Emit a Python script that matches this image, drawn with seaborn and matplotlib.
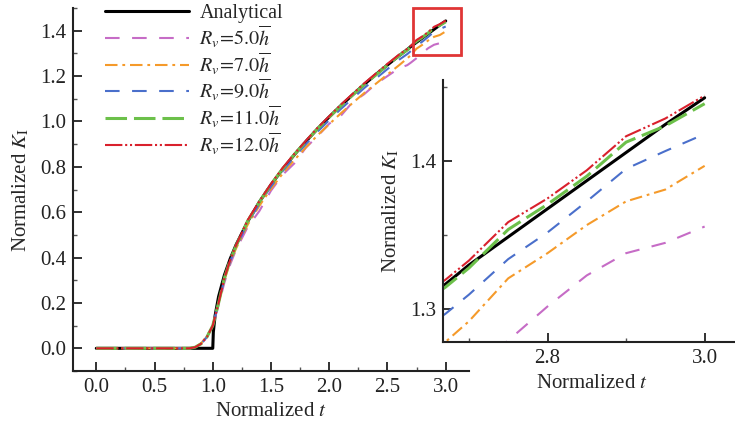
import matplotlib
matplotlib.use("Agg")
import matplotlib.pyplot as plt
import seaborn as sns
import pandas as pd
from matplotlib.patches import Rectangle

# ---------------- data ----------------
t_analytical = [0.0, 1.0, 1.0, 1.005, 1.02, 1.05, 1.10, 1.15, 1.20, 1.30, 1.40, 1.50, 1.60, 1.70,
                1.80, 1.90, 2.00, 2.10, 2.20, 2.30, 2.40, 2.50, 2.60, 2.67, 2.70, 2.75, 2.80,
                2.85, 2.90, 2.95, 3.00]
k_analytical = [0.0, 0.0, 0.0, 0.072, 0.144, 0.228, 0.323, 0.395, 0.456, 0.559, 0.645, 0.721, 0.790,
                0.853, 0.912, 0.968, 1.020, 1.070, 1.117, 1.163, 1.207, 1.249, 1.290, 1.317,
                1.330, 1.349, 1.368, 1.387, 1.406, 1.425, 1.443]

t_num = [0.0, 0.80, 0.85, 0.90, 0.95, 1.00, 1.05, 1.10, 1.15, 1.20, 1.30, 1.40, 1.50, 1.60, 1.70,
         1.80, 1.90, 2.00, 2.10, 2.20, 2.30, 2.40, 2.50, 2.60, 2.67, 2.70, 2.75, 2.80, 2.85,
         2.90, 2.95, 3.00]
k_r5 = [0, 0, 0.005, 0.02, 0.05, 0.10, 0.19, 0.29, 0.37, 0.435, 0.535, 0.605, 0.695, 0.765, 0.815,
        0.885, 0.935, 0.99, 1.025, 1.085, 1.12, 1.165, 1.20, 1.235, 1.248, 1.259, 1.279, 1.302,
        1.323, 1.338, 1.345, 1.356]
k_r7 = [0, 0, 0.006, 0.022, 0.055, 0.10, 0.20, 0.30, 0.38, 0.44, 0.545, 0.628, 0.703, 0.770,
        0.830, 0.886, 0.939, 0.988, 1.036, 1.081, 1.125, 1.166, 1.207, 1.248, 1.278, 1.292,
        1.321, 1.338, 1.357, 1.373, 1.381, 1.397]
k_r9 = [0, 0, 0.005, 0.02, 0.05, 0.10, 0.20, 0.305, 0.385, 0.447, 0.552, 0.637, 0.713, 0.781,
        0.843, 0.900, 0.955, 1.006, 1.055, 1.101, 1.147, 1.189, 1.231, 1.272, 1.297, 1.310,
        1.334, 1.352, 1.373, 1.395, 1.407, 1.4185]
k_r11 = [0, 0, 0.005, 0.02, 0.05, 0.10, 0.20, 0.31, 0.39, 0.452, 0.561, 0.645, 0.722, 0.791,
         0.854, 0.912, 0.968, 1.019, 1.069, 1.116, 1.163, 1.205, 1.249, 1.290, 1.315, 1.328,
         1.354, 1.371, 1.390, 1.413, 1.424, 1.439]
k_r12 = [0, 0, 0.005, 0.02, 0.05, 0.10, 0.20, 0.31, 0.39, 0.455, 0.565, 0.648, 0.725, 0.795,
         0.857, 0.915, 0.972, 1.023, 1.074, 1.121, 1.168, 1.211, 1.254, 1.295, 1.320, 1.333,
         1.359, 1.375, 1.394, 1.417, 1.429, 1.4445]

labels = ["Analytical",
          r"$R_v\!=\!5.0\overline{h}$",
          r"$R_v\!=\!7.0\overline{h}$",
          r"$R_v\!=\!9.0\overline{h}$",
          r"$R_v\!=\!11.0\overline{h}$",
          r"$R_v\!=\!12.0\overline{h}$"]

main_xticks = [0.0, 0.5, 1.0, 1.5, 2.0, 2.5, 3.0]
main_xminor = [-0.25, 0.25, 0.75, 1.25, 1.75, 2.25, 2.75, 3.25]
main_yticks = [0.0, 0.2, 0.4, 0.6, 0.8, 1.0, 1.2, 1.4]
main_yminor = [-0.1, 0.1, 0.3, 0.5, 0.7, 0.9, 1.1, 1.3, 1.5]
inset_xticks = [2.8, 3.0]
inset_xminor = [2.7, 2.9]
inset_yticks = [1.3, 1.4]
inset_yminor = [1.35, 1.45]

# ---------------- style ----------------
sns.set_theme(style="ticks")
plt.rcParams["font.family"] = ["Liberation Serif", "DejaVu Serif"]
plt.rcParams["mathtext.fontset"] = "stix"
plt.rcParams["lines.scale_dashes"] = False
plt.rcParams["axes.linewidth"] = 1.5
FS = 15

series = [
    (t_analytical, k_analytical, "black", "-", 2.2),
    (t_num, k_r5, "#c66cc6", (0, (10.5, 9.0)), 1.5),
    (t_num, k_r7, "#f59a2a", (0, (9.0, 3.5, 2.0, 3.5)), 1.5),
    (t_num, k_r9, "#4a6fcb", (0, (10.5, 9.0)), 1.5),
    (t_num, k_r11, "#6cc04a", (0, (15.5, 5.0)), 2.2),
    (t_num, k_r12, "#d9202c", (0, (12.5, 2.0, 1.5, 2.0, 1.5, 2.0)), 1.5),
]

fig = plt.figure(figsize=(7.35, 4.28), dpi=100)
fig.patch.set_facecolor("white")
ax = fig.add_axes([73 / 735, 1 - 371 / 428, (469 - 73) / 735, (371 - 8) / 428])
axi = fig.add_axes([443 / 735, 1 - 342 / 428, (740 - 443) / 735, (342 - 80) / 428])


def draw(a, with_labels):
    for (t, k, c, ls, lw), lab in zip(series, labels):
        df = pd.DataFrame({"t": t, "k": k})
        sns.lineplot(data=df, x="t", y="k", ax=a, color=c, linestyle=ls, lw=lw,
                     estimator=None, sort=False, label=lab if with_labels else None,
                     legend=False)


def style_axes(a):
    sns.despine(ax=a)
    a.tick_params(which="major", direction="in", length=6.5, width=1.3,
                  labelsize=FS, colors="#222222", pad=5)
    a.tick_params(which="minor", direction="in", length=3, width=1.0, colors="#555555")
    for s in ["left", "bottom"]:
        a.spines[s].set_color("#222222")
    a.set_facecolor("white")


draw(ax, True)
ax.set_xticks(main_xticks)
ax.set_xticklabels([f"{v:.1f}" for v in main_xticks])
ax.set_xticks(main_xminor, minor=True)
ax.set_yticks(main_yticks)
ax.set_yticklabels([f"{v:.1f}" for v in main_yticks])
ax.set_yticks(main_yminor, minor=True)
ax.set_xlim(-0.2, 3.2)
ax.set_ylim(-0.1, 1.5)
style_axes(ax)
ax.set_xlabel("Normalized $t$", fontsize=FS, labelpad=4)
ax.set_ylabel(r"Normalized $K_{\rm I}$", fontsize=FS, labelpad=6)

ax.add_patch(Rectangle((2.72, 1.295), 0.41, 0.205, fill=False, edgecolor="#e03535",
                       lw=2.0, clip_on=False, zorder=5))

handles, labs = ax.get_legend_handles_labels()
leg = ax.legend(handles, labs, loc="upper left", bbox_to_anchor=(0.08, 1.01), frameon=False,
                fontsize=14.5, handlelength=4.2, handletextpad=0.5, labelspacing=0.0,
                borderpad=0, borderaxespad=0)

draw(axi, False)
axi.set_xticks(inset_xticks)
axi.set_xticklabels([f"{v:.1f}" for v in inset_xticks])
axi.set_xticks(inset_xminor, minor=True)
axi.set_yticks(inset_yticks)
axi.set_yticklabels([f"{v:.1f}" for v in inset_yticks])
axi.set_yticks(inset_yminor, minor=True)
axi.set_xlim(2.667, 3.045)
axi.set_ylim(1.278, 1.455)
style_axes(axi)
axi.set_xlabel("Normalized $t$", fontsize=FS, labelpad=4)
axi.set_ylabel(r"Normalized $K_{\rm I}$", fontsize=FS, labelpad=6)

fig.savefig("out.png", dpi=100, facecolor="white")
